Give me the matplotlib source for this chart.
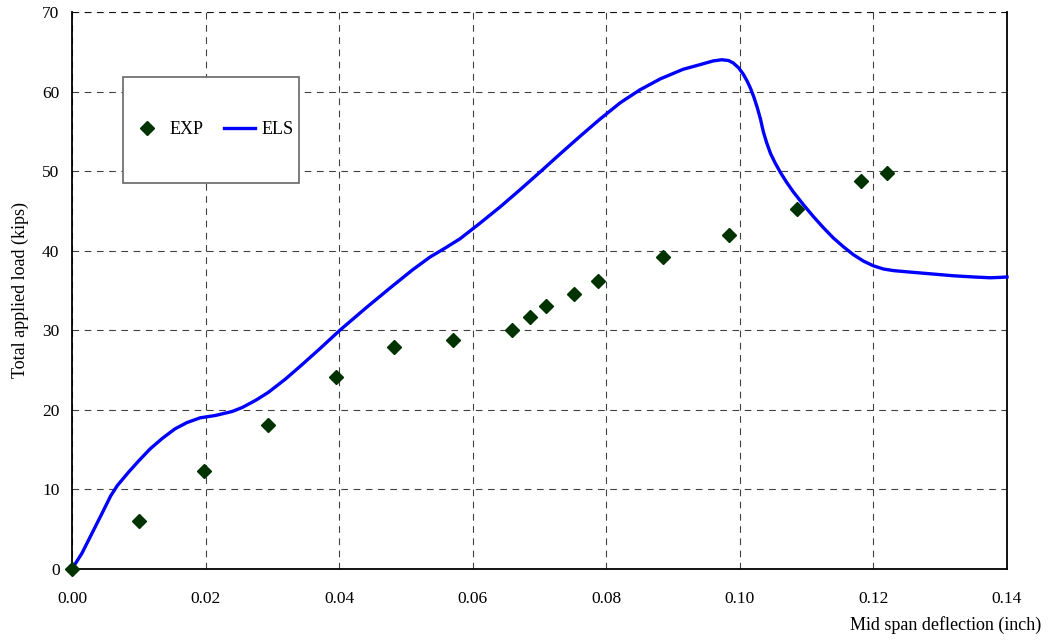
import matplotlib
matplotlib.use("Agg")
import matplotlib.pyplot as plt
from matplotlib.patches import Rectangle

plt.rcParams['font.family'] = ['Liberation Serif', 'DejaVu Serif']

exp_x = [0.0, 0.0100, 0.0198, 0.0294, 0.0396, 0.0482, 0.0571, 0.0659, 0.0686, 0.0709,
         0.0751, 0.0787, 0.0885, 0.0984, 0.1085, 0.1182, 0.1221]
exp_y = [0.0, 6.0, 12.3, 18.1, 24.1, 27.9, 28.8, 30.0, 31.7, 33.0,
         34.6, 36.2, 39.2, 42.0, 45.2, 48.8, 49.8]

els_x = [0.0, 0.0015, 0.0030, 0.0045, 0.0058, 0.0068, 0.0085, 0.0100, 0.0117, 0.0135,
         0.0154, 0.0172, 0.0192, 0.0215, 0.0240, 0.0255, 0.0275, 0.0294, 0.0320, 0.0342,
         0.0370, 0.0401, 0.0440, 0.0476, 0.0510, 0.0536, 0.0560, 0.0581, 0.0610, 0.0641,
         0.0670, 0.0701, 0.0730, 0.0761, 0.0790, 0.0821, 0.0850, 0.0881, 0.0915, 0.0941,
         0.0960, 0.0973, 0.0983, 0.0990, 0.0998, 0.1005, 0.1011, 0.1016, 0.1021, 0.1026,
         0.1031, 0.1035, 0.1040, 0.1046, 0.1053, 0.1061, 0.1070, 0.1080, 0.1095, 0.1110,
         0.1125, 0.1140, 0.1155, 0.1170, 0.1185, 0.1200, 0.1215, 0.1230, 0.1250, 0.1285,
         0.1320, 0.1350, 0.1375, 0.1390, 0.1400]
els_y = [0.0, 2.0, 4.5, 7.0, 9.2, 10.5, 12.2, 13.6, 15.1, 16.4,
         17.6, 18.4, 19.0, 19.3, 19.8, 20.3, 21.2, 22.2, 23.9, 25.5,
         27.6, 30.0, 32.8, 35.3, 37.6, 39.2, 40.4, 41.5, 43.4, 45.5,
         47.6, 49.9, 52.1, 54.4, 56.5, 58.6, 60.2, 61.6, 62.8, 63.4,
         63.85, 64.0, 63.9, 63.6, 63.0, 62.2, 61.3, 60.4, 59.3, 58.0,
         56.5, 55.0, 53.6, 52.2, 51.0, 49.8, 48.6, 47.4, 45.8, 44.3,
         42.9, 41.6, 40.5, 39.5, 38.7, 38.1, 37.7, 37.5, 37.35, 37.1,
         36.85, 36.7, 36.6, 36.65, 36.7]

xticks = [0.00, 0.02, 0.04, 0.06, 0.08, 0.10, 0.12, 0.14]
yticks = [0, 10, 20, 30, 40, 50, 60, 70]

W, H = 1054, 640
L, R, T, B = 72, 1007, 12, 569

fig = plt.figure(figsize=(W / 100, H / 100), dpi=100)
ax = fig.add_axes([L / W, 1 - B / H, (R - L) / W, (B - T) / H])

ax.plot(els_x, els_y, color='#0000ff', lw=2.4, label='ELS', zorder=3, clip_on=False)
ax.plot(exp_x, exp_y, linestyle='none', marker='D', ms=7.5, color='#003300',
        label='EXP', zorder=4, clip_on=False)

ax.set_xlim(0, 0.14)
ax.set_ylim(0, 70)
ax.set_xticks(xticks)
ax.set_xticklabels([f"{v:.2f}" for v in xticks])
ax.set_yticks(yticks)
ax.set_yticklabels([str(v) for v in yticks])
ax.tick_params(length=0, labelsize=12.5, colors='black')
ax.tick_params(axis='x', pad=16)
ax.tick_params(axis='y', pad=9)

ax.grid(True, color='black', linestyle=(0, (6, 5)), lw=0.8, alpha=0.75)
ax.axhline(70, color='black', linestyle=(0, (6, 5)), lw=0.8, alpha=0.75, clip_on=False)
for s in ['left', 'bottom', 'right']:
    ax.spines[s].set_color('black')
    ax.spines[s].set_linewidth(1.3)
ax.spines['top'].set_visible(False)

fig.text(1041 / W, 1 - 625 / H, 'Mid span deflection (inch)', ha='right', va='center', fontsize=13)
fig.text(20 / W, 1 - 290 / H, 'Total applied load (kips)', ha='center', va='center',
         rotation=90, fontsize=13)

# legend frame
lx0, ly0, lx1, ly1 = 123, 77, 299, 183
frame = Rectangle((lx0 / W, 1 - ly1 / H), (lx1 - lx0) / W, (ly1 - ly0) / H,
                  transform=fig.transFigure, facecolor='white', edgecolor='#666666',
                  lw=1.2, zorder=5)
fig.add_artist(frame)

h, l = ax.get_legend_handles_labels()
leg = fig.legend([h[1], h[0]], [l[1], l[0]], ncol=2, loc='center',
                 bbox_to_anchor=(213 / W, 1 - 130 / H), frameon=False,
                 fontsize=13, handlelength=1.7, handletextpad=0.4, columnspacing=1.1)
leg.set_zorder(6)

fig.savefig('out.png', dpi=100)
